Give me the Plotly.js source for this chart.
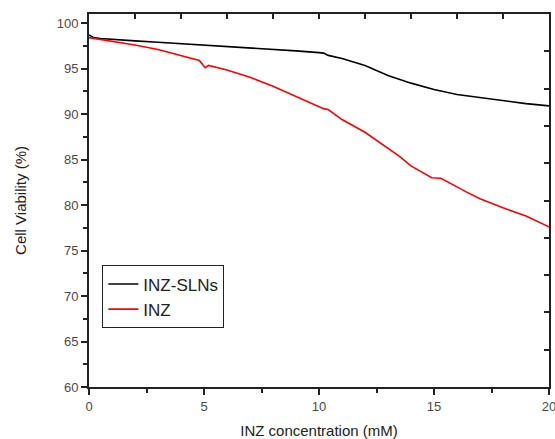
<!DOCTYPE html>
<html>
<head>
<meta charset="utf-8">
<script src="https://cdn.plot.ly/plotly-3.0.1.min.js"></script>
<style>html,body{margin:0;padding:0;background:#fff;}#chart{width:555px;height:439px;}</style>
</head>
<body>
<div id="chart"></div>
<script>
const slnX = [0, 0.2, 0.5, 1, 2, 3, 4, 5, 6, 7, 8, 9, 10, 10.2, 10.4, 11, 12, 13, 14, 15, 16, 17, 18, 19, 20];
const slnY = [98.7, 98.4, 98.3, 98.2, 98.05, 97.9, 97.75, 97.6, 97.45, 97.3, 97.15, 96.95, 96.75, 96.7, 96.45, 96.1, 95.35, 94.25, 93.4, 92.7, 92.15, 91.8, 91.5, 91.15, 90.9];
const inzX = [0, 0.5, 1, 2, 3, 4, 4.8, 5.05, 5.2, 6, 7, 8, 9, 10, 10.2, 10.4, 11, 12, 13, 13.5, 14, 14.9, 15.3, 15.5, 16, 16.4, 17, 18, 19, 20];
const inzY = [98.4, 98.2, 98.0, 97.6, 97.1, 96.45, 95.9, 95.1, 95.35, 94.85, 94.05, 93.05, 91.95, 90.85, 90.6, 90.5, 89.4, 88.0, 86.2, 85.35, 84.3, 83.0, 82.95, 82.7, 82.0, 81.45, 80.7, 79.7, 78.8, 77.6];
const seriesNames = ["INZ-SLNs", "INZ"];

const font = "Arial, 'Liberation Sans', sans-serif";
const data = [
  {x: slnX, y: slnY, name: seriesNames[0], mode: "lines", line: {color: "#000000", width: 1.6}},
  {x: inzX, y: inzY, name: seriesNames[1], mode: "lines", line: {color: "#ff0000", width: 1.6}},
  {x: [], y: [], xaxis: "x2", yaxis: "y2", showlegend: false, hoverinfo: "skip", mode: "lines"}
];
const layout = {
  width: 555, height: 439,
  margin: {l: 89, r: 6, t: 14, b: 52},
  paper_bgcolor: "#ffffff", plot_bgcolor: "#ffffff",
  font: {family: font, color: "#444444"},
  showlegend: true,
  legend: {x: 0.029, y: 0.157, xanchor: "left", yanchor: "bottom", bgcolor: "#ffffff",
           bordercolor: "#222222", borderwidth: 1, font: {size: 17, color: "#222222", family: font},
           tracegroupgap: 0},
  xaxis: {range: [0, 20], dtick: 5, tick0: 0, ticks: "outside", ticklen: 6, tickwidth: 2, tickcolor: "#222",
          showline: true, linecolor: "#222", linewidth: 2, showgrid: false, zeroline: false,
          ticklabeloverflow: "allow",
          tickfont: {size: 13, color: "#4a4a4a"},
          minor: {dtick: 2.5, ticks: "outside", ticklen: 4, tickwidth: 2, tickcolor: "#222", showgrid: false},
          title: {text: "INZ concentration (mM)", font: {size: 15, color: "#222"}, standoff: 14}},
  yaxis: {range: [60, 101], dtick: 5, tick0: 60, ticks: "outside", ticklen: 6, tickwidth: 2, tickcolor: "#222",
          showline: true, linecolor: "#222", linewidth: 2, showgrid: false, zeroline: false,
          tickfont: {size: 13, color: "#4a4a4a"},
          minor: {dtick: 2.5, ticks: "outside", ticklen: 4, tickwidth: 2, tickcolor: "#222", showgrid: false},
          title: {text: "Cell Viability (%)", font: {size: 15, color: "#222"}, standoff: 26}},
  xaxis2: {overlaying: "x", side: "top", anchor: "y", range: [0, 10], dtick: 1, ticks: "inside", ticklen: 5,
           tickwidth: 2, tickcolor: "#222", showline: true, linecolor: "#222", linewidth: 2,
           showticklabels: false, showgrid: false, zeroline: false},
  yaxis2: {overlaying: "y", side: "right", anchor: "x", range: [0, 10], dtick: 1, ticks: "inside", ticklen: 5,
           tickwidth: 2, tickcolor: "#222", showline: true, linecolor: "#222", linewidth: 2,
           showticklabels: false, showgrid: false, zeroline: false}
};
Plotly.newPlot("chart", data, layout, {displayModeBar: false, staticPlot: true});
</script>
</body>
</html>
